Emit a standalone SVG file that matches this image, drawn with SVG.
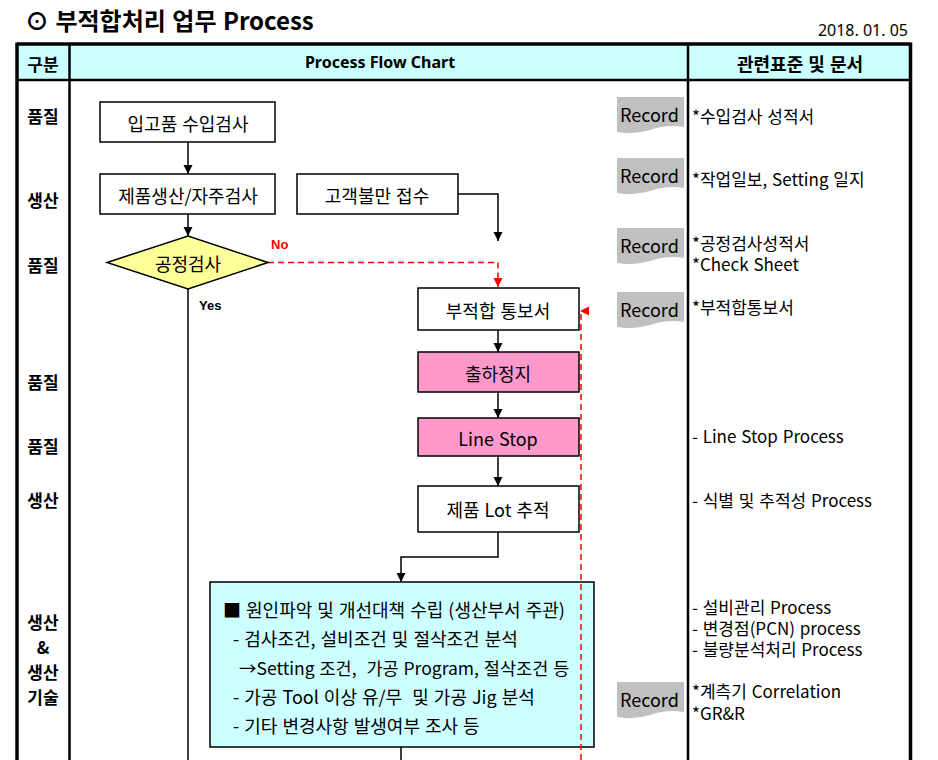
<svg xmlns="http://www.w3.org/2000/svg" width="938" height="760" viewBox="0 0 938 760">
<style>
.t{font-family:'Noto Sans CJK KR','Noto Sans',sans-serif;font-size:18px;fill:#000;dominant-baseline:central;white-space:pre;word-spacing:1px}
.d{font-size:17px}
.b{font-weight:bold}
.c{text-anchor:middle}
.lab{font-family:'Noto Sans CJK KR','Noto Sans',sans-serif;font-size:17px;font-weight:bold;text-anchor:middle;dominant-baseline:central}
.yn{font-family:'Liberation Sans',Arial,sans-serif;font-size:13px;font-weight:bold}
.box{fill:#fff;stroke:#000;stroke-width:1.5}
.pink{fill:#FF99CC;stroke:#000;stroke-width:1.5}
.cyan{fill:#CCFFFF;stroke:#000;stroke-width:1.5}
.dia{fill:#FFFF99;stroke:#000;stroke-width:1.5}
.ln{fill:none;stroke:#000;stroke-width:1.5}
.dash{fill:none;stroke:#FF0000;stroke-width:1.5;stroke-dasharray:6 4}
.rec{fill:#C0C0C0}
</style>
<defs>
<marker id="ah" markerUnits="userSpaceOnUse" markerWidth="10" markerHeight="10" refX="9" refY="4.5" orient="auto"><path d="M0,0 L9,4.5 L0,9 z" fill="#000"/></marker>
<marker id="ahr" markerUnits="userSpaceOnUse" markerWidth="10" markerHeight="10" refX="9" refY="4.5" orient="auto"><path d="M0,0 L9,4.5 L0,9 z" fill="#FF0000"/></marker>
<path id="recShape" d="M0,0 H67 V30 Q50,27 33,33 Q16,38 0,35 Z"/>
</defs>

<!-- title -->
<g id="title">
<text x="25" y="19" class="t b" style="font-size:24px">⊙ 부적합처리 업무 Process</text>
<text x="908" y="30" style="font-family:'Noto Sans',sans-serif;font-size:16px;text-anchor:end;dominant-baseline:central">2018. 01. 05</text>
</g>

<!-- table -->
<g id="table">
<rect x="17" y="44" width="893" height="36" fill="#CCFFFF"/>
<line x1="17" y1="44" x2="910" y2="44" stroke="#000" stroke-width="3.5"/>
<line x1="17" y1="80" x2="910" y2="80" stroke="#000" stroke-width="2.5"/>
<line x1="17" y1="42.5" x2="17" y2="760" stroke="#000" stroke-width="3.5"/>
<line x1="910.5" y1="42.5" x2="910.5" y2="760" stroke="#000" stroke-width="3.5"/>
<line x1="69.5" y1="44" x2="69.5" y2="760" stroke="#000" stroke-width="2.5"/>
<line x1="688" y1="44" x2="688" y2="760" stroke="#000" stroke-width="2.5"/>
<text x="43" y="63" class="lab">구분</text>
<text x="380" y="62" class="b c" style="font-family:'Noto Sans',sans-serif;font-size:16px;dominant-baseline:central">Process Flow Chart</text>
<text x="800" y="63" class="t b c">관련표준 및 문서</text>
</g>

<!-- left column labels -->
<g id="labels">
<text x="43" y="115" class="lab">품질</text>
<text x="43" y="199" class="lab">생산</text>
<text x="43" y="264" class="lab">품질</text>
<text x="43" y="381" class="lab">품질</text>
<text x="43" y="445" class="lab">품질</text>
<text x="43" y="499" class="lab">생산</text>
<text class="lab"><tspan x="43" y="621">생산</tspan><tspan x="43" y="646">&amp;</tspan><tspan x="43" y="671">생산</tspan><tspan x="43" y="696">기술</tspan></text>
</g>

<!-- connectors -->
<g id="connectors">
<path class="ln" d="M188,142 V174" marker-end="url(#ah)"/>
<path class="ln" d="M188,214 V236" marker-end="url(#ah)"/>
<path class="ln" d="M188,289 V760"/>
<path class="ln" d="M458,194 H498 V241" marker-end="url(#ah)"/>
<path class="dash" d="M268,262.5 H498 V287" marker-end="url(#ahr)"/>
<path class="ln" d="M498,330 V352" marker-end="url(#ah)"/>
<path class="ln" d="M498,392 V418" marker-end="url(#ah)"/>
<path class="ln" d="M498,456 V486" marker-end="url(#ah)"/>
<path class="ln" d="M498,532 V557 H401 V582" marker-end="url(#ah)"/>
<path class="ln" d="M401,747 V760"/>
<text x="271" y="244" class="yn" fill="#FF0000" dominant-baseline="central">No</text>
<text x="199" y="305" class="yn" fill="#000" dominant-baseline="central">Yes</text>
</g>

<!-- nodes -->
<g id="n_incoming">
<rect x="100" y="102" width="175" height="40" class="box"/>
<text x="188" y="123" class="t c">입고품 수입검사</text>
</g>
<g id="n_production">
<rect x="100" y="174" width="175" height="40" class="box"/>
<text x="188" y="195" class="t c">제품생산/자주검사</text>
</g>
<g id="n_inspect">
<polygon points="107,262.5 188,236 268,262.5 188,289" class="dia"/>
<text x="188" y="263" class="t c">공정검사</text>
</g>
<g id="n_complaint">
<rect x="297" y="174" width="161" height="40" class="box"/>
<text x="377" y="195" class="t c">고객불만 접수</text>
</g>
<g id="n_report">
<rect x="418" y="288" width="161" height="42" class="box"/>
<text x="498" y="310" class="t c">부적합 통보서</text>
</g>
<g id="n_shipstop">
<rect x="418" y="352" width="161" height="40" class="pink"/>
<text x="498" y="373" class="t c">출하정지</text>
</g>
<g id="n_linestop">
<rect x="418" y="418" width="161" height="38" class="pink"/>
<text x="498" y="438" class="t c">Line Stop</text>
</g>
<g id="n_lot">
<rect x="418" y="486" width="161" height="46" class="box"/>
<text x="498" y="509" class="t c">제품 Lot 추적</text>
</g>
<g id="n_cause">
<rect x="210" y="582" width="384" height="165" class="cyan"/>
<text x="223" y="609" class="t">■ 원인파악 및 개선대책 수립 (생산부서 주관)</text>
<text x="233" y="638" class="t">- 검사조건, 설비조건 및 절삭조건 분석</text>
<text x="239" y="667" class="t" style="font-size:17.5px">→Setting 조건,  가공 Program, 절삭조건 등</text>
<text x="233" y="696" class="t">- 가공 Tool 이상 유/무  및 가공 Jig 분석</text>
<text x="233" y="725" class="t">- 기타 변경사항 발생여부 조사 등</text>
</g>

<!-- red feedback dashed line on top -->
<g id="feedback">
<path class="dash" d="M581,760 V311 H580" marker-end="url(#ahr)"/>
</g>

<!-- records -->
<g id="records">
<g id="rec1"><use href="#recShape" x="617" y="97" class="rec"/><text x="620" y="114" class="t">Record</text></g>
<g id="rec2"><use href="#recShape" x="617" y="158" class="rec"/><text x="620" y="175" class="t">Record</text></g>
<g id="rec3"><use href="#recShape" x="617" y="228" class="rec"/><text x="620" y="245" class="t">Record</text></g>
<g id="rec4"><use href="#recShape" x="617" y="292" class="rec"/><text x="620" y="309" class="t">Record</text></g>
<g id="rec5"><use href="#recShape" x="617" y="682" class="rec"/><text x="620" y="699" class="t">Record</text></g>
</g>

<!-- documents -->
<g id="docs">
<text x="692" y="115" class="t d">*수입검사 성적서</text>
<text x="692" y="178" class="t d">*작업일보, Setting 일지</text>
<text class="t d"><tspan x="692" y="242">*공정검사성적서</tspan><tspan x="692" y="263">*Check Sheet</tspan></text>
<text x="692" y="306" class="t d">*부적합통보서</text>
<text x="692" y="435" class="t d">- Line Stop Process</text>
<text x="692" y="499" class="t d">- 식별 및 추적성 Process</text>
<text class="t d"><tspan x="692" y="606">- 설비관리 Process</tspan><tspan x="692" y="627">- 변경점(PCN) process</tspan><tspan x="692" y="648">- 불량분석처리 Process</tspan></text>
<text class="t d"><tspan x="692" y="690">*계측기 Correlation</tspan><tspan x="692" y="712">*GR&amp;R</tspan></text>
</g>
</svg>
